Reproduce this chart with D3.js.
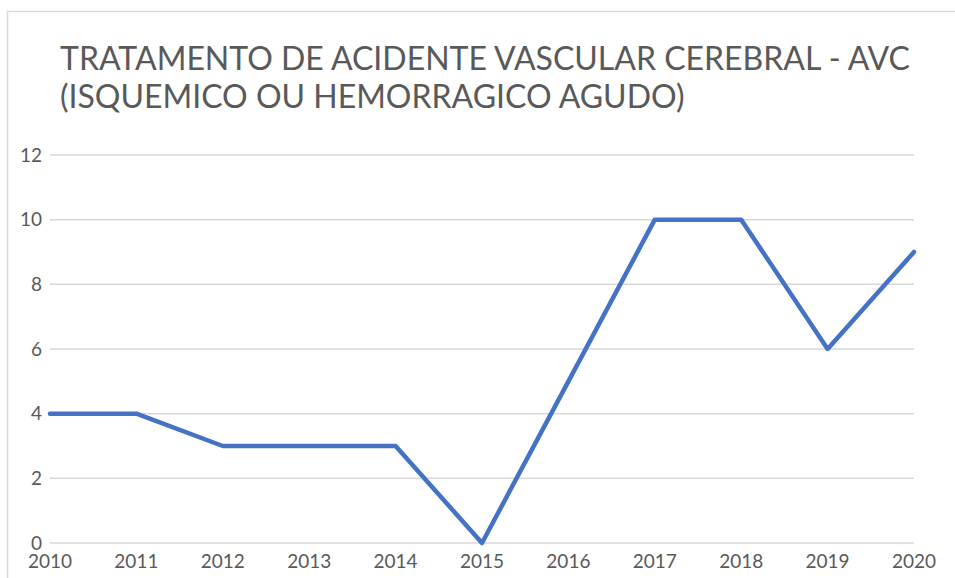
<!DOCTYPE html>
<html>
<head>
<meta charset="utf-8">
<script src="https://cdn.jsdelivr.net/npm/d3@7"></script>
<style>
  body { margin: 0; background: #fff; }
  svg { display: block; font-family: Lato, "Open Sans", sans-serif; }
</style>
</head>
<body>
<div class="chart"></div>
<script>
const years = [2010, 2011, 2012, 2013, 2014, 2015, 2016, 2017, 2018, 2019, 2020];
const values = [4, 4, 3, 3, 3, 0, 5, 10, 10, 6, 9];
const yTicks = [0, 2, 4, 6, 8, 10, 12];
const titleLines = ["TRATAMENTO DE ACIDENTE VASCULAR CEREBRAL - AVC", "(ISQUEMICO OU HEMORRAGICO AGUDO)"];

const width = 955,
    height = 578;

const svg = d3.select(".chart").append("svg")
    .attr("width", width)
    .attr("height", height);

// chart frame, cut off by the window on right and bottom
svg.append("rect")
    .attr("x", 7.5)
    .attr("y", 11.5)
    .attr("width", 1000)
    .attr("height", 1000)
    .attr("fill", "none")
    .attr("stroke", "#d9d9d9")
    .attr("stroke-width", 1.5);

svg.selectAll(".title")
    .data(titleLines)
    .join("text")
    .attr("class", "title")
    .attr("x", 60)
    .attr("y", (d, i) => 70 + i * 38)
    .attr("fill", "#595959")
    .style("font-size", "32px")
    .text(d => d);

const x = d3.scalePoint()
    .domain(years)
    .range([50, 914]);

const y = d3.scaleLinear()
    .domain([0, 12])
    .range([543, 155]);

// gridlines
svg.append("g")
    .selectAll("line")
    .data(yTicks)
    .join("line")
    .attr("x1", 50)
    .attr("x2", 914)
    .attr("y1", d => y(d))
    .attr("y2", d => y(d))
    .attr("stroke", "#d9d9d9")
    .attr("stroke-width", 1.5);

// y labels
svg.append("g")
    .selectAll("text")
    .data(yTicks)
    .join("text")
    .attr("x", 42)
    .attr("y", d => y(d))
    .attr("dy", "0.35em")
    .attr("text-anchor", "end")
    .attr("fill", "#595959")
    .style("font-size", "19px")
    .text(d => d);

// x labels
svg.append("g")
    .selectAll("text")
    .data(years)
    .join("text")
    .attr("x", d => x(d))
    .attr("y", 568)
    .attr("text-anchor", "middle")
    .attr("fill", "#595959")
    .style("font-size", "19px")
    .text(d => d);

const line = d3.line()
    .x((d, i) => x(years[i]))
    .y(d => y(d));

svg.append("path")
    .datum(values)
    .attr("d", line)
    .attr("fill", "none")
    .attr("stroke", "#4472c4")
    .attr("stroke-width", 4.5)
    .attr("stroke-linejoin", "round")
    .attr("stroke-linecap", "round");
</script>
</body>
</html>
